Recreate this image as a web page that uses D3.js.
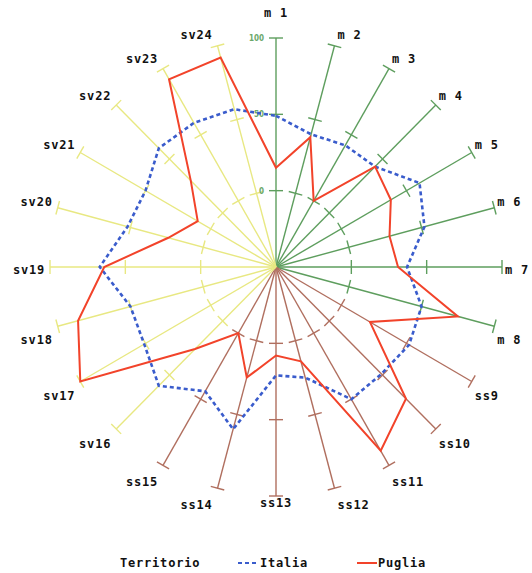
<!DOCTYPE html>
<html>
<head>
<meta charset="utf-8">
<script src="https://cdn.jsdelivr.net/npm/d3@7"></script>
<style>
html,body{margin:0;padding:0;background:#fff;}
svg text{font-family:"DejaVu Sans Mono",monospace;font-weight:bold;}
</style>
</head>
<body>
<svg id="chart" width="532" height="573"></svg>
<script>
const categories = ["m 1","m 2","m 3","m 4","m 5","m 6","m 7","m 8",
  "ss9","ss10","ss11","ss12","ss13","ss14","ss15",
  "sv16","sv17","sv18","sv19","sv20","sv21","sv22","sv23","sv24"];
const groups = ["m","m","m","m","m","m","m","m","ss","ss","ss","ss","ss","ss","ss",
  "sv","sv","sv","sv","sv","sv","sv","sv","sv"];
const italia = [49,40,42,43,60,52,37,50, 52,49,50,25,21,60,44, 60,51,50,67,52,50,60,59,57];
const puglia = [15,38,0,43,38,28,31,75, 22,72,89,14,8,25,0, 26,100,86,64,24,10,30,92,92];
const tickValues = [0,50,100];
const tickLabels = ["0","50","100"];
const seriesNames = ["Italia","Puglia"];

const svg = d3.select("#chart");
const cx = 276, cy = 267, rx = 226, ry = 229;
const rScale = d3.scaleLinear().domain([-50,100]).range([0,1]);
const angle = d3.scalePoint().domain(categories).range([0, 2*Math.PI*23/24]);
const colors = {m:"#5e9e5e", ss:"#b06f5f", sv:"#e8e882"};

function pt(cat, v){
  const a = angle(cat), f = rScale(v);
  return [cx + rx*f*Math.sin(a), cy - ry*f*Math.cos(a)];
}

// axes
categories.forEach((c,i)=>{
  const col = colors[groups[i]];
  const e = pt(c,100);
  svg.append("line").attr("x1",cx).attr("y1",cy).attr("x2",e[0]).attr("y2",e[1])
    .attr("stroke",col).attr("stroke-width",1.4);
  const a = angle(c);
  const px = Math.cos(a), py = Math.sin(a); // perpendicular
  tickValues.forEach(t=>{
    const p = pt(c,t);
    svg.append("line").attr("x1",p[0]-px*7).attr("y1",p[1]-py*7)
      .attr("x2",p[0]+px*7).attr("y2",p[1]+py*7)
      .attr("stroke",col).attr("stroke-width",1.4);
  });
});

// tick labels on first axis
tickValues.forEach((t,i)=>{
  const p = pt(categories[0],t);
  svg.append("text").attr("x",p[0]-12).attr("y",p[1]+3)
    .attr("text-anchor","end").attr("font-size",8).attr("font-weight","normal")
    .attr("fill","#6aa86a").style("font-family","DejaVu Sans Condensed").text(tickLabels[i]);
});

// axis labels
categories.forEach((c,i)=>{
  const a = angle(c);
  const e = pt(c,100);
  const s = Math.sin(a), co = Math.cos(a);
  let anchor = "middle", dx = 0, dy;
  if (s > 0.05){ anchor="start"; dx = 3; }
  else if (s < -0.05){ anchor="end"; dx = -5; }
  if (Math.abs(s) < 0.05){ dy = co > 0 ? -25 : 7; }
  else if (co > 0.05) dy = -4 - 7*co;
  else if (co < -0.05) dy = 12 + 5*Math.abs(co);
  else dy = 3;
  svg.append("text").attr("x",e[0]+dx).attr("y",e[1]+dy)
    .attr("dominant-baseline","central").attr("text-anchor",anchor)
    .attr("font-size",12).attr("letter-spacing",0.8).attr("fill","#111").text(c);
});

const line = d3.line().curve(d3.curveLinearClosed);
svg.append("path").attr("d", line(categories.map((c,i)=>pt(c,italia[i]))))
  .attr("fill","none").attr("stroke","#3a5ccc").attr("stroke-width",2.6)
  .attr("stroke-dasharray","4,3");
svg.append("path").attr("d", line(categories.map((c,i)=>pt(c,puglia[i]))))
  .attr("fill","none").attr("stroke","#f2432a").attr("stroke-width",2);

// legend
const ly = 563;
svg.append("text").attr("x",120).attr("y",ly).attr("dominant-baseline","central")
  .attr("font-size",12).attr("letter-spacing",0.8).attr("fill","#111").text("Territorio");
svg.append("line").attr("x1",238).attr("x2",258).attr("y1",ly).attr("y2",ly)
  .attr("stroke","#3a5ccc").attr("stroke-width",2.2).attr("stroke-dasharray","4,3");
svg.append("text").attr("x",260).attr("y",ly).attr("dominant-baseline","central")
  .attr("font-size",12).attr("letter-spacing",0.8).attr("fill","#111").text(seriesNames[0]);
svg.append("line").attr("x1",357).attr("x2",377).attr("y1",ly).attr("y2",ly)
  .attr("stroke","#f2432a").attr("stroke-width",2);
svg.append("text").attr("x",378).attr("y",ly).attr("dominant-baseline","central")
  .attr("font-size",12).attr("letter-spacing",0.8).attr("fill","#111").text(seriesNames[1]);
</script>
</body>
</html>
